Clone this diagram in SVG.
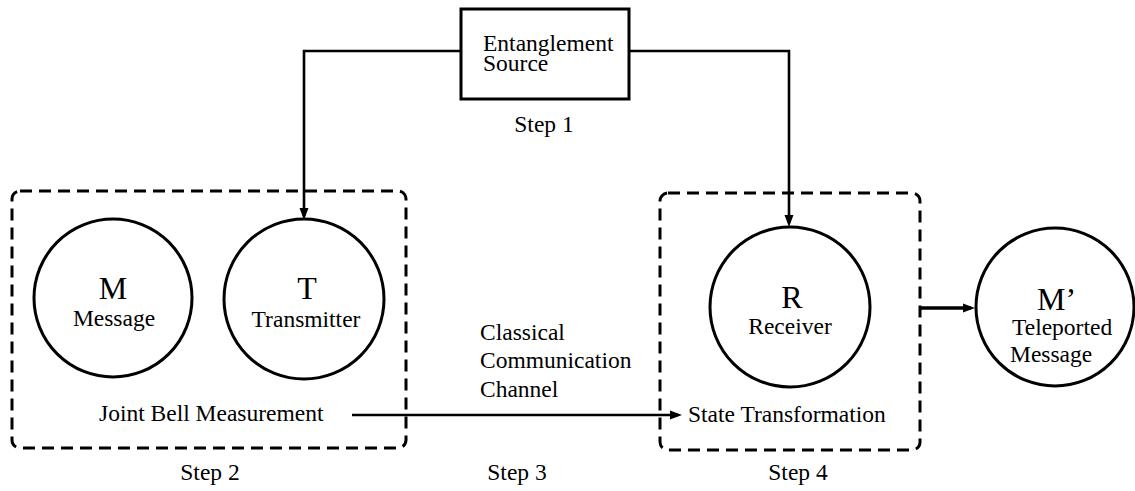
<svg xmlns="http://www.w3.org/2000/svg" width="1135" height="491" viewBox="0 0 1135 491">
<style>
  text { font-family: "Liberation Serif", "Times New Roman", serif; fill: #000; font-size: 23.5px; }
  .big { font-size: 32px; }
  .mid { text-anchor: middle; }
  .node { fill: #fff; stroke: #000; stroke-width: 3; }
  .group { fill: none; stroke: #000; stroke-width: 3; stroke-dasharray: 12 7; }
  .conn { fill: none; stroke: #000; stroke-width: 2.6; }
  .thick { stroke-width: 3.6; }
</style>
<defs>
  <marker id="arrow" markerUnits="userSpaceOnUse" viewBox="0 0 12 10" refX="8" refY="5" markerWidth="12" markerHeight="10" orient="auto">
    <path d="M0,0.5 L12,5 L0,9.5 Z" fill="#000"/>
  </marker>
</defs>
<rect width="1135" height="491" fill="#fff"/>

<g id="step2-group">
  <rect class="group" x="12" y="191" width="394" height="257" rx="8"/>
  <text x="99" y="421">Joint Bell Measurement</text>
  <text class="mid" x="210" y="480">Step 2</text>
</g>
<g id="step4-group">
  <rect class="group" x="660" y="193" width="260" height="257" rx="8"/>
  <text x="688" y="422">State Transformation</text>
  <text class="mid" x="798" y="480">Step 4</text>
</g>

<g id="connectors">
  <path class="conn" d="M461,51 H304 V216" marker-end="url(#arrow)"/>
  <path class="conn" d="M629,51 H789 V223" marker-end="url(#arrow)"/>
  <path class="conn" d="M352,415 H678" marker-end="url(#arrow)"/>
  <path class="conn thick" d="M920,308 H971" marker-end="url(#arrow)"/>
</g>

<g id="entanglement-source">
  <rect class="node" x="461" y="9" width="168" height="90"/>
  <text x="483" y="51">Entanglement</text>
  <text x="483" y="71">Source</text>
  <text class="mid" x="544" y="132">Step 1</text>
</g>

<g id="message">
  <circle class="node" cx="113" cy="298" r="79"/>
  <text class="big mid" x="113" y="299">M</text>
  <text class="mid" x="114" y="326">Message</text>
</g>

<g id="transmitter">
  <circle class="node" cx="304" cy="299" r="80"/>
  <text class="big mid" x="307" y="299">T</text>
  <text class="mid" x="306" y="327">Transmitter</text>
</g>

<g id="classical-channel">
  <text x="480" y="340">Classical</text>
  <text x="480" y="368">Communication</text>
  <text x="480" y="397">Channel</text>
  <text class="mid" x="517" y="480">Step 3</text>
</g>

<g id="receiver">
  <circle class="node" cx="790" cy="307" r="80"/>
  <text class="big mid" x="792" y="308">R</text>
  <text class="mid" x="790" y="334">Receiver</text>
</g>

<g id="teleported-message">
  <circle class="node" cx="1055" cy="307" r="79"/>
  <text class="big" x="1037" y="310">M’</text>
  <text x="1012" y="335">Teleported</text>
  <text x="1010" y="362">Message</text>
</g>
</svg>
